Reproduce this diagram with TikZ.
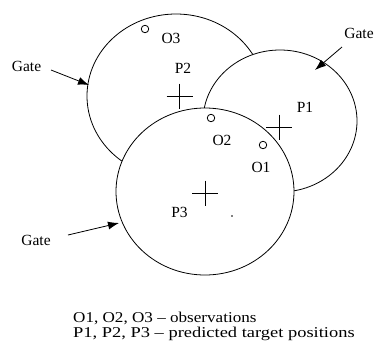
\documentclass[tikz,border=0pt]{standalone}
\usepackage{fontspec}
\setmainfont{Liberation Serif}
\newfontfamily\capfont[FakeStretch=1.14]{Liberation Serif}
\newfontfamily\capfontb[FakeStretch=1.23]{Liberation Serif}
\usetikzlibrary{shapes.geometric,arrows.meta}
\begin{document}
\begin{tikzpicture}[x=1pt,y=-1pt,
  gate/.style={ellipse,draw=black,fill=white,line width=0.8pt,inner sep=0pt},
  obs/.style={circle,draw=black,line width=0.8pt,minimum size=7.5pt,inner sep=0pt},
  lbl/.style={anchor=base,inner sep=0pt,font=\fontsize{15.5}{18}\selectfont},
  caplbl/.style={anchor=base west,inner sep=0pt,font=\fontsize{15}{18}\selectfont},
  gatearrow/.style={line width=0.8pt,-{Latex[length=11pt,width=8pt]}},
  crossline/.style={line width=0.8pt}]
\useasboundingbox (0,0) rectangle (376,341);
\fill[white] (0,0) rectangle (376,341);
% gates
\node[gate,minimum width=178pt,minimum height=164pt] (g2) at (176,96) {};
\node[gate,minimum width=154pt,minimum height=142pt] (g1) at (280,121) {};
\node[gate,minimum width=178pt,minimum height=167pt] (g3) at (205,191.5) {};
% predicted positions
\coordinate (p1) at (279,127);
\coordinate (p2) at (179.5,96);
\coordinate (p3) at (205,193);
\foreach \p in {p1,p2,p3}{
  \draw[crossline] (\p) ++(-13,0) -- ++(26,0);
  \draw[crossline] (\p) ++(0,-12.5) -- ++(0,25);
}
% observations
\node[obs] (o1) at (263,145) {};
\node[obs] (o2) at (211,118) {};
\node[obs] (o3) at (145,29) {};
\fill (232,216) circle[radius=0.8pt];
% labels
\node[lbl] (lo3) at (171,43) {O3};
\node[lbl] (lp2) at (183,73) {P2};
\node[lbl] (lp1) at (305,112) {P1};
\node[lbl] (lo2) at (222,145) {O2};
\node[lbl] (lo1) at (261,172) {O1};
\node[lbl] (lp3) at (179.5,217) {P3};
\node[lbl] (gl) at (26.5,71) {Gate};
\node[lbl] (gr) at (359,38) {Gate};
\node[lbl] (gb) at (36,245) {Gate};
% arrows
\coordinate (glS) at (51,70);
\coordinate (glE) at (89,85);
\coordinate (grS) at (342,47);
\coordinate (grE) at (315,70);
\coordinate (gbS) at (68,235);
\coordinate (gbE) at (119,223);
\draw[gatearrow] (glS) -- (glE);
\draw[gatearrow] (grS) -- (grE);
\draw[gatearrow] (gbS) -- (gbE);
% caption
\node[caplbl] (c1) at (73,322) {\capfont O1, O2, O3 – observations};
\node[caplbl] (c2) at (73,337) {\capfontb P1, P2, P3 – predicted target positions};
\end{tikzpicture}
\end{document}
